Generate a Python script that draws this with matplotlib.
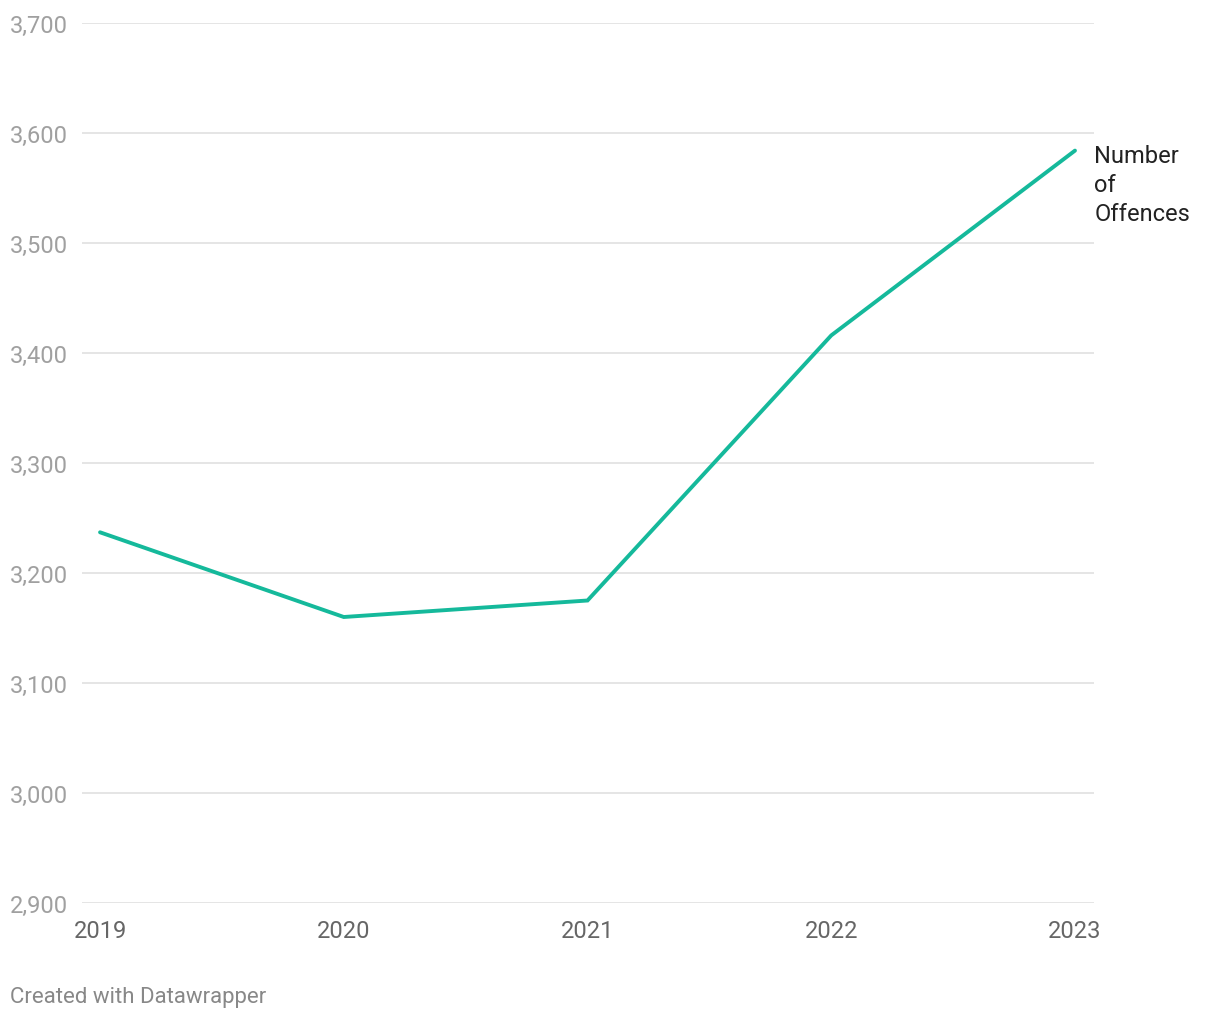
import matplotlib.pyplot as plt
from matplotlib.ticker import FuncFormatter

years = [2019, 2020, 2021, 2022, 2023]
offences = [3237, 3160, 3175, 3416, 3584]
y_ticks = [2900, 3000, 3100, 3200, 3300, 3400, 3500, 3600, 3700]
series_label = "Number\nof\nOffences"


def main():
    plt.rcParams['font.family'] = ['Roboto', 'DejaVu Sans']
    fig = plt.figure(figsize=(12.2, 10.2), dpi=100)
    ax = fig.add_axes([82 / 1220, 116 / 1020, (1094 - 82) / 1220, 880 / 1020])

    for t in y_ticks:
        ax.axhline(t, color='#e0e0e0', lw=1.2, zorder=1)

    ax.plot(years, offences, color='#15b99b', lw=2.8, solid_joinstyle='miter',
            solid_capstyle='round', zorder=3)

    ax.set_xlim(2018.926, 2023.078)
    ax.set_ylim(2900, 3700)
    for s in ax.spines.values():
        s.set_visible(False)

    ax.set_yticks(y_ticks)
    ax.yaxis.set_major_formatter(FuncFormatter(lambda v, p: f"{int(v):,}"))
    ax.tick_params(axis='y', length=0, labelsize=17, labelcolor='#a0a0a0', pad=0)
    for lab in ax.get_yticklabels():
        lab.set_horizontalalignment('left')
        lab.set_x(-72 / 1012)

    ax.set_xticks(years)
    ax.set_xticklabels([str(y) for y in years])
    ax.tick_params(axis='x', length=0, labelsize=17, labelcolor='#666666', pad=11.5)

    ax.annotate(series_label, xy=(years[-1], offences[-1]), xytext=(14, 4.5),
                textcoords='offset points', fontsize=17, color='#222222',
                va='top', ha='left', linespacing=1.33,
                annotation_clip=False)

    fig.text(10 / 1220, 1 - 998 / 1020, "Created with Datawrapper",
             fontsize=16, color='#888888', va='center', ha='left')

    fig.savefig('out.png', dpi=100, facecolor='white')


if __name__ == '__main__':
    main()
